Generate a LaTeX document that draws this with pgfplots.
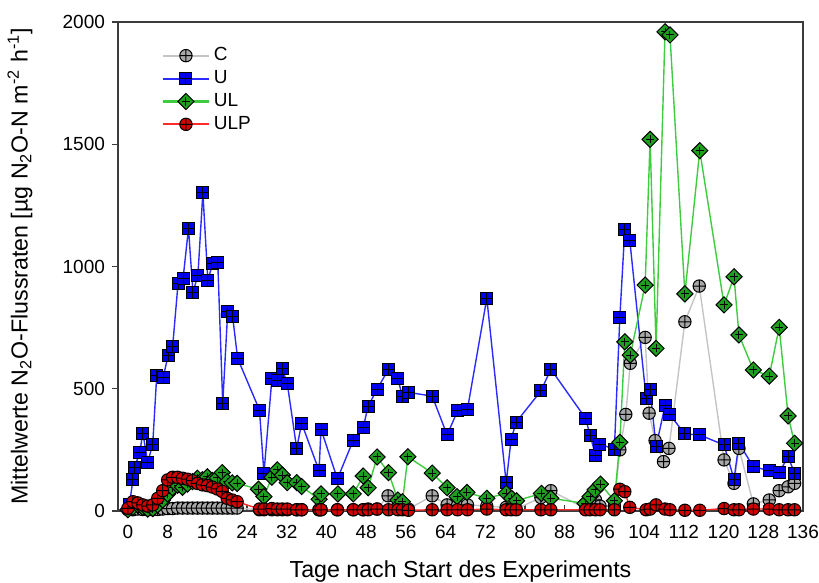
\documentclass[border=0pt]{standalone}
\usepackage{pgfplots}
\pgfplotsset{compat=1.18}
\usepackage{pgfplotstable}
\usepackage{fontspec}
\setmainfont{Liberation Sans}
\usetikzlibrary{plotmarks}

\definecolor{cline}{HTML}{C4C4C4}
\definecolor{cfill}{HTML}{A8A8A8}
\definecolor{uline}{HTML}{2B2BFF}
\definecolor{ufill}{HTML}{0000F0}
\definecolor{ulline}{HTML}{3FCC3F}
\definecolor{ulfill}{HTML}{1E9E1E}
\definecolor{ulpline}{HTML}{FF2A2A}
\definecolor{ulpfill}{HTML}{D40000}
\definecolor{axgray}{HTML}{3C3C3C}

% square with a cross inside
\pgfdeclareplotmark{sqplus}{%
  \pgfpathrectangle{\pgfqpoint{-\pgfplotmarksize}{-\pgfplotmarksize}}{\pgfqpoint{2\pgfplotmarksize}{2\pgfplotmarksize}}%
  \pgfusepathqfillstroke
  \pgfpathmoveto{\pgfqpoint{-\pgfplotmarksize}{0pt}}%
  \pgfpathlineto{\pgfqpoint{\pgfplotmarksize}{0pt}}%
  \pgfpathmoveto{\pgfqpoint{0pt}{-\pgfplotmarksize}}%
  \pgfpathlineto{\pgfqpoint{0pt}{\pgfplotmarksize}}%
  \pgfusepathqstroke}
% diamond with a cross inside
\pgfdeclareplotmark{dplus}{%
  \pgfpathmoveto{\pgfqpoint{1.3\pgfplotmarksize}{0pt}}%
  \pgfpathlineto{\pgfqpoint{0pt}{1.3\pgfplotmarksize}}%
  \pgfpathlineto{\pgfqpoint{-1.3\pgfplotmarksize}{0pt}}%
  \pgfpathlineto{\pgfqpoint{0pt}{-1.3\pgfplotmarksize}}%
  \pgfpathclose
  \pgfusepathqfillstroke
  \pgfpathmoveto{\pgfqpoint{-0.65\pgfplotmarksize}{0pt}}%
  \pgfpathlineto{\pgfqpoint{0.65\pgfplotmarksize}{0pt}}%
  \pgfpathmoveto{\pgfqpoint{0pt}{-0.65\pgfplotmarksize}}%
  \pgfpathlineto{\pgfqpoint{0pt}{0.65\pgfplotmarksize}}%
  \pgfusepathqstroke}

\pgfplotstableread{
day val
0 5
1 5
2 8
3 6
4 5
5 5
6 6
7 8
8 10
9 10
10 12
11 12
12 12
13 12
14 12
15 12
16 12
17 12
18 12
19 12
20 12
21 12
22 12
26.5 5
27.4 5
29 5
30.1 5
31.1 5
32.1 5
34 5
35 5
38.5 5
38.9 5
42.2 5
45.4 5
47.4 5
48.4 8
50.2 8
52.4 62
54.4 20
55.3 10
56.5 8
61.3 62
64.3 25
66.4 22
68.4 25
72.3 20
76.2 15
77.2 10
78.2 8
83.2 55
85.2 83
92.2 10
93.1 20
94.2 45
95.1 20
98 20
99.1 250
100.3 395
101.2 604
104.2 710
105 400
106.2 288
107.9 202
109 256
112.2 774
115.1 920
120.1 209
122.1 113
123.1 256
126 29
129.2 45
131.2 83
133 99
134.3 113
}\tableC

\pgfplotstableread{
day val
0.3 25
1 127
1.3 176
2.4 241
3 319
4 200
5 274
5.8 553
7.1 548
8.1 635
9 671
10.1 931
11.1 949
12.2 1156
13.1 894
14.1 965
15.1 1302
16.1 944
17.1 1014
18.1 1017
19.1 440
20.1 815
21.1 795
22.1 624
26.5 413
27.4 154
29 540
30.1 533
31.1 581
32.1 522
34 256
35 359
38.5 165
38.9 334
42.2 131
45.4 290
47.4 342
48.4 429
50.2 498
52.5 580
54.4 540
55.3 468
56.5 485
61.3 470
64.3 311
66.4 409
68.4 416
72.3 870
76.2 116
77.2 293
78.2 363
83.2 491
85.2 580
92.2 379
93.1 310
94.2 229
95.1 274
98 252
99.1 792
100.1 1152
101.1 1108
104.4 461
105.2 495
106.4 263
108.2 431
109.2 393
112.2 315
115.2 311
120.1 270
122.1 130
123.1 277
126 181
129.2 165
131.2 158
133 222
134.3 154
}\tableU

\pgfplotstableread{
day val
0 5
1 15
2 25
3 15
4 8
5 10
6 25
7 45
8 70
9 95
10 105
11 97
12 110
13 120
14 134
15 128
16 140
17 125
18 135
19 157
20 120
21 115
22 113
26.3 89
27.4 59
29 138
30.1 168
31.1 147
32.1 116
34 116
35 100
38.5 48
38.9 70
42.3 70
45.4 70
47.4 143
48.4 95
50.2 221
52.5 157
54.4 45
55.3 38
56.4 222
61.3 155
64.3 95
66.3 59
68.3 76
72.3 52
76.2 72
77.3 52
78.3 42
83.3 72
85.2 52
92.1 31
93.1 59
94.1 86
95.2 110
98 42
99.1 281
100.1 692
101.2 638
104.2 924
105.2 1520
106.4 665
108.2 1960
109.2 1947
112.2 888
115.2 1474
120.1 843
122.1 958
123.1 720
126 577
129.2 552
131.2 751
133 389
134.3 277
}\tableUL

\pgfplotstableread{
day val
0 11
1 38
2 33
3 25
4 20
5 25
6 52
7 83
8 127
9 138
10 138
11 134
12 130
13 124
14 113
15 107
16 104
17 98
18 90
19 80
20 52
21 45
22 38
26.5 8
27.4 8
29 10
30.1 8
31.1 8
32.1 8
34 5
35 5
38.5 5
38.9 5
42.2 5
45.4 5
47.4 5
48.4 5
50.2 8
52.5 5
54.4 5
55.3 5
56.5 3
61.3 5
64.3 5
66.4 5
68.4 5
72.3 8
76.2 5
77.2 5
78.2 5
83.2 5
85.2 5
92.2 5
93.1 5
94.2 5
95.1 5
98 5
99.1 89
100.1 79
101.1 15
104.4 5
105.2 8
106.4 25
108.2 8
109.2 5
112.2 3
115.2 3
120.1 10
122.1 5
123.1 5
126 8
129.2 8
131.2 5
133 5
134.3 5
}\tableULP

\begin{document}
\begin{tikzpicture}
\path[use as bounding box] (-59pt,-36pt) rectangle (350.5pt,255.5pt);
\begin{axis}[
  scale only axis,
  width=342.5pt, height=244.5pt,
  at={(0,0)}, anchor=south west,
  xmin=-2, xmax=136, ymin=0, ymax=2000,
  xtick={0,8,...,136},
  ytick={0,500,1000,1500,2000},
  xtick pos=bottom, ytick pos=left,
  xtick align=inside, ytick align=outside,
  major tick length=3pt,
  tick style={axgray, line width=0.6pt},
  axis line style={axgray, line width=1pt},
  clip=false,
  /pgf/number format/assume math mode=true,
  /pgf/number format/1000 sep={},
  tick label style={font=\fontsize{9.5}{11}\selectfont},
  xticklabel style={yshift=-3.5pt},
  xlabel={Tage nach Start des Experiments},
  ylabel={Mittelwerte N\textsubscript{2}O-Flussraten [µg N\textsubscript{2}O-N m\textsuperscript{-2} h\textsuperscript{-1}]},
  label style={font=\fontsize{11.6}{13}\selectfont},
  xlabel style={at={(axis description cs:0.5,-0.123)}, anchor=center},
  ylabel style={at={(axis description cs:-0.143,0.5)}, anchor=center},
  legend style={draw=none, fill=none, at={(0.055,0.965)}, anchor=north west,
    font=\fontsize{9.5}{11}\selectfont, row sep=-0.6pt,
    cells={anchor=west}},
  legend image code/.code={%
    \draw[mark repeat=2, mark phase=2, #1, line width=1.1pt] plot coordinates {(0cm,0cm) (0.4cm,0cm) (0.8cm,0cm)};},
]
\addplot[cline, line width=0.7pt, mark=oplus*, mark size=3.1pt, mark options={solid, draw=black, line width=0.5pt, fill=cfill}] table[x=day, y=val] {\tableC};
\addlegendentry{C}
\addplot[uline, line width=0.7pt, mark=sqplus, mark size=3pt, mark options={solid, draw=black, line width=0.5pt, fill=ufill}] table[x=day, y=val] {\tableU};
\addlegendentry{U}
\addplot[ulline, line width=0.7pt, mark=dplus, mark size=3.1pt, mark options={solid, draw=black, line width=0.5pt, fill=ulfill}] table[x=day, y=val] {\tableUL};
\addlegendentry{UL}
\addplot[ulpline, line width=0.7pt, mark=oplus*, mark size=3.1pt, mark options={solid, draw=black, line width=0.5pt, fill=ulpfill}] table[x=day, y=val] {\tableULP};
\addlegendentry{ULP}
\end{axis}
\end{tikzpicture}
\end{document}
